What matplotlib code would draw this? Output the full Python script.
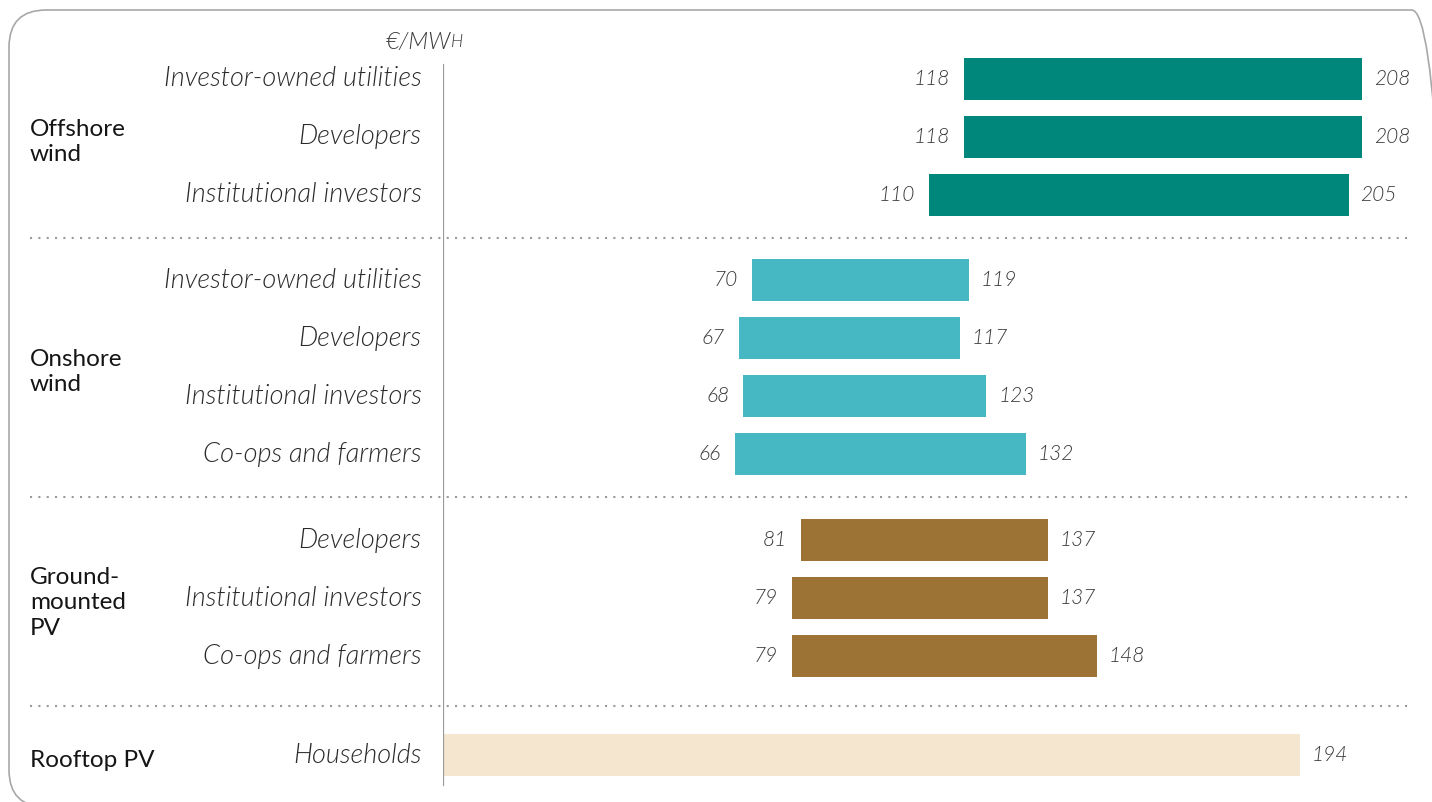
import matplotlib.pyplot as plt
from matplotlib import transforms
from matplotlib.lines import Line2D
from matplotlib.patches import FancyBboxPatch

# ------------- Data -------------
groups = ["Offshore\nwind", "Onshore\nwind", "Ground-\nmounted\nPV", "Rooftop PV"]
investors = [
    ["Investor-owned utilities", "Developers", "Institutional investors"],
    ["Investor-owned utilities", "Developers", "Institutional investors", "Co-ops and farmers"],
    ["Developers", "Institutional investors", "Co-ops and farmers"],
    ["Households"],
]
low = [
    [118, 118, 110],
    [70, 67, 68, 66],
    [81, 79, 79],
    [None],
]
high = [
    [208, 208, 205],
    [119, 117, 123, 132],
    [137, 137, 148],
    [194],
]
colors = ["#00877b", "#46b8c4", "#9d7335", "#f5e7cf"]
unit = "€/MW"

# ------------- Layout -------------
W, H = 1432, 802
gaps = [1.47, 1.48, 1.71]   # vertical gap between groups, in rows
ITALIC = dict(family="Lato", style="italic", weight=300)

fig = plt.figure(figsize=(W / 100, H / 100), dpi=100)
ax = fig.add_axes([443 / W, 2 / H, 972 / W, 760 / H])
ax.set_xlim(0, 220)
ax.set_ylim(12.431, -0.672)
ax.axis("off")

# rounded frame
frame = FancyBboxPatch((9 / W, -5 / H), 1440 / W, 797 / H, transform=fig.transFigure,
                       boxstyle="round,pad=0,rounding_size=0.026",
                       mutation_aspect=W / H, facecolor="none",
                       edgecolor="#a8a8a8", linewidth=1.2)
fig.patches.append(frame)

# vertical axis line
ax.axvline(0, ymin=0.0197, ymax=0.967, color="#9a9a9a", linewidth=1.6)

blend = transforms.blended_transform_factory(fig.transFigure, ax.transData)

y = 0.0
for g, name in enumerate(groups):
    ys = []
    for i, lab in enumerate(investors[g]):
        lo = low[g][i]
        hi = high[g][i]
        start = 0 if lo is None else lo
        ax.barh(y, hi - start, left=start, height=0.72, color=colors[g])
        ax.annotate(lab, (0, y), xytext=(-15.5, 0), textcoords="offset points",
                    ha="right", va="center", fontsize=19.5, color="#2a2a2a", **ITALIC)
        if lo is not None:
            ax.annotate(str(lo), (lo, y), xytext=(-10, 0), textcoords="offset points",
                        ha="right", va="center", fontsize=15, color="#3a3a3a", **ITALIC)
        ax.annotate(str(hi), (hi, y), xytext=(8.5, 0), textcoords="offset points",
                    ha="left", va="center", fontsize=15, color="#3a3a3a", **ITALIC)
        ys.append(y)
        y += 1
    ax.annotate(name, (30 / W, sum(ys) / len(ys)), xycoords=blend,
                xytext=(0, -3.5), textcoords="offset points", ha="left", va="center",
                fontsize=17.5, family="Lato", weight=400, color="#151515",
                linespacing=1.25, annotation_clip=False)
    if g < len(gaps):
        mid = ys[-1] + gaps[g] / 2
        fig.add_artist(Line2D([30 / W, 1412 / W], [mid, mid], transform=blend,
                              color="#9a9a9a", linewidth=1.5, linestyle=(0, (1, 3))))
        y = ys[-1] + gaps[g]

# unit label with small-cap H
t1 = fig.text(386 / W, (H - 42) / H, unit, ha="left", va="center", fontsize=17,
              color="#3a3a3a", **ITALIC)
ax.annotate("H", xy=(1, 0.1), xycoords=t1, ha="left", va="bottom", fontsize=12.5,
            color="#3a3a3a", annotation_clip=False, **ITALIC)

fig.savefig("out.png", dpi=100)
